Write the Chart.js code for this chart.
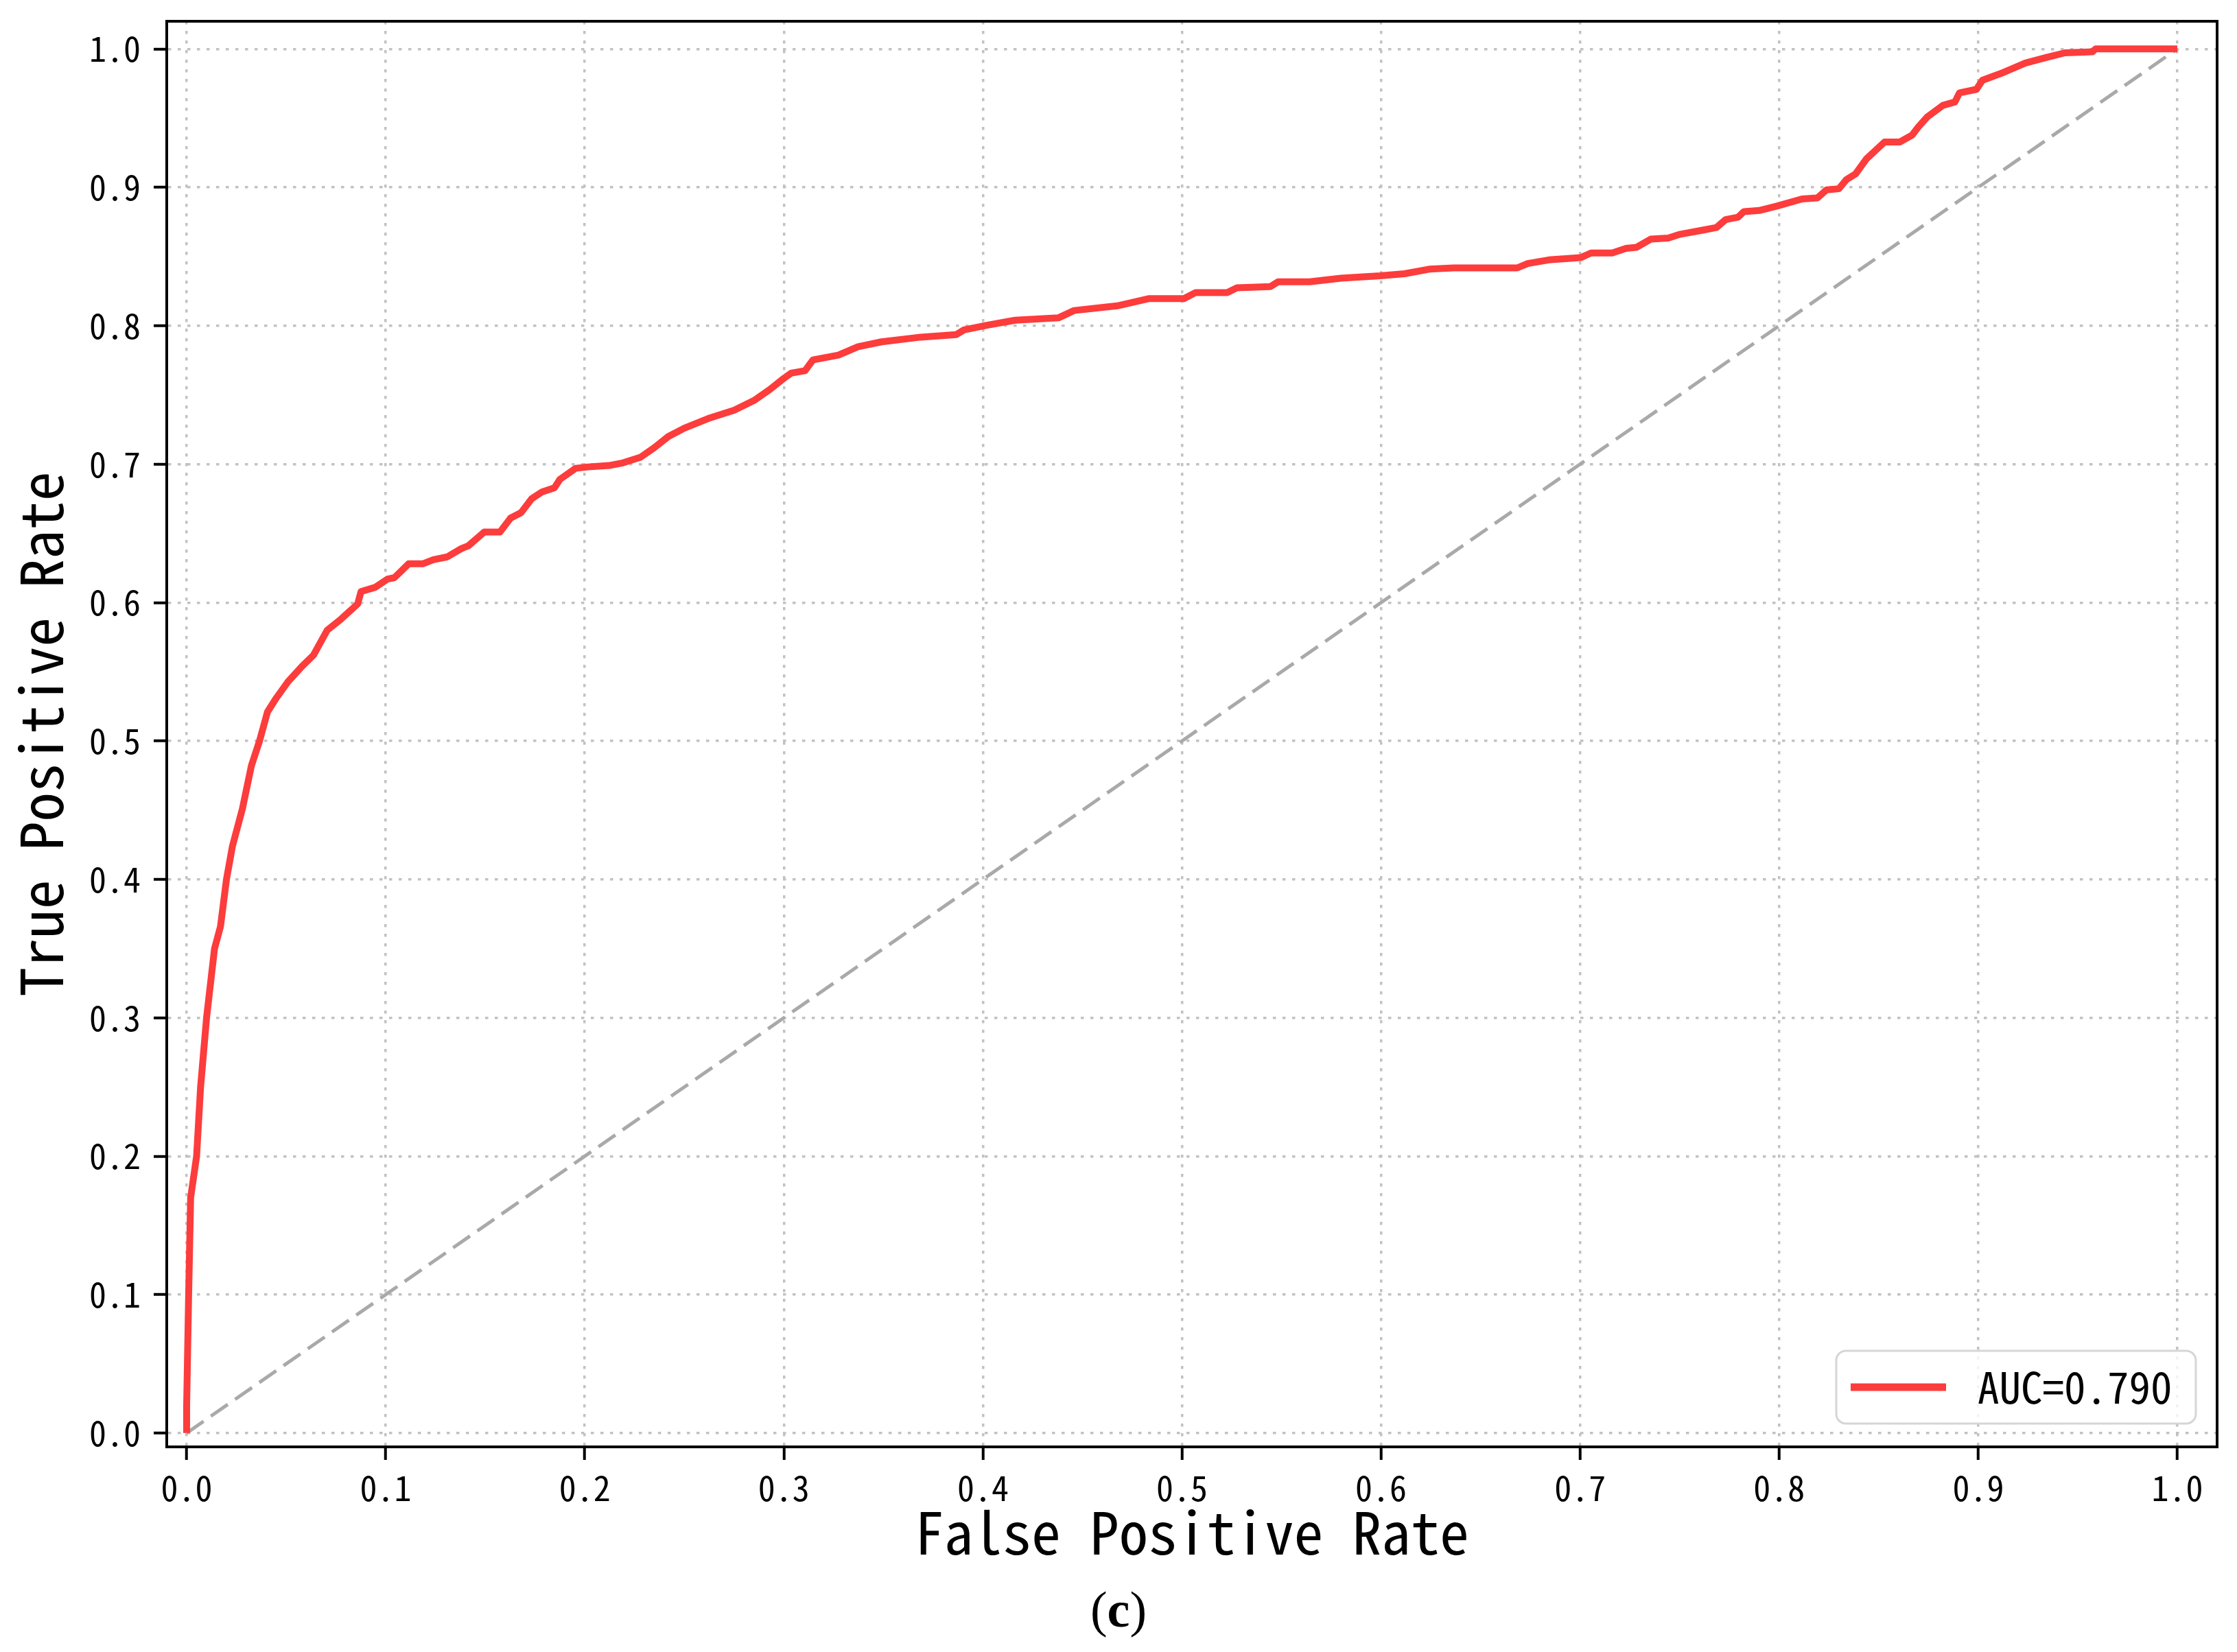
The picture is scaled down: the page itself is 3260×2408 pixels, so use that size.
<!DOCTYPE html>
<html>
<head>
<meta charset="utf-8">
<title>ROC curve (c)</title>
<script src="https://cdn.jsdelivr.net/npm/chart.js@4.4.1/dist/chart.umd.min.js"></script>
<style>
  html, body { margin: 0; padding: 0; background: #fff; }
  #wrap { position: relative; width: 3260px; height: 2408px; }
  #caption {
    position: absolute; left: 0; top: 2309px; width: 3260px;
    text-align: center; font-family: 'Liberation Serif', serif;
    font-size: 74px; line-height: 74px; color: #000;
  }
</style>
</head>
<body>
<div id="wrap">
  <canvas id="roc" width="3260" height="2408"></canvas>
  <div id="caption">(<b>c</b>)</div>
</div>
<script>
// ROC points
var fpr = [0, 0.000, 0.001, 0.002, 0.005, 0.007, 0.010, 0.014, 0.017, 0.020, 0.023, 0.028, 0.0325, 0.0366,
  0.0406, 0.045, 0.051, 0.058, 0.0637, 0.0706, 0.0775, 0.0859, 0.0876, 0.0947, 0.1009, 0.1044, 0.1115,
  0.1186, 0.1239, 0.1309, 0.138, 0.1415, 0.1495, 0.1574, 0.1627, 0.168, 0.1733, 0.1786, 0.1848, 0.1875,
  0.1954, 0.2016, 0.2122, 0.2193, 0.228, 0.235, 0.242, 0.250, 0.262, 0.275, 0.285, 0.293, 0.300, 0.3037,
  0.3106, 0.3146, 0.3274, 0.3373, 0.3491, 0.3688, 0.3866, 0.3905, 0.4024, 0.4162, 0.4379, 0.4458, 0.4675,
  0.4832, 0.501, 0.5069, 0.5227, 0.5276, 0.5444, 0.5483, 0.5641, 0.5799, 0.5996, 0.6118, 0.6242, 0.6366,
  0.6684, 0.6737, 0.6843, 0.7002, 0.7055, 0.7161, 0.7231, 0.7284, 0.7355, 0.7443, 0.7496, 0.762, 0.7685,
  0.7731, 0.7793, 0.7823, 0.79, 0.7992, 0.8115, 0.8192, 0.8238, 0.83, 0.8338, 0.8384, 0.8438, 0.853,
  0.8607, 0.8668, 0.8699, 0.8745, 0.8822, 0.8883, 0.8906, 0.8991, 0.9021, 0.9114, 0.9237, 0.9344, 0.9436,
  0.9574, 0.959, 1.0];
var tpr = [0, 0.02, 0.10, 0.17, 0.20, 0.25, 0.30, 0.35, 0.366, 0.40, 0.424, 0.451, 0.482, 0.50,
  0.521, 0.531, 0.543, 0.554, 0.562, 0.580, 0.588, 0.599, 0.608, 0.611, 0.617, 0.618, 0.628,
  0.628, 0.631, 0.633, 0.639, 0.641, 0.651, 0.651, 0.661, 0.665, 0.675, 0.680, 0.683, 0.689,
  0.697, 0.698, 0.699, 0.701, 0.705, 0.712, 0.720, 0.726, 0.733, 0.739, 0.746, 0.754, 0.762, 0.7658,
  0.7675, 0.7753, 0.7788, 0.7849, 0.7884, 0.7918, 0.7936, 0.797, 0.8005, 0.804, 0.8057, 0.811, 0.8144,
  0.8196, 0.8196, 0.824, 0.824, 0.8274, 0.8283, 0.8318, 0.8318, 0.8344, 0.8361, 0.8376, 0.8409, 0.8418,
  0.8418, 0.845, 0.8476, 0.8492, 0.8526, 0.8526, 0.8559, 0.8567, 0.8626, 0.8634, 0.8659, 0.8692, 0.871,
  0.8767, 0.8784, 0.8825, 0.8833, 0.8866, 0.8916, 0.8924, 0.8982, 0.899, 0.9056, 0.9097, 0.9205, 0.9328,
  0.9328, 0.9378, 0.9436, 0.951, 0.9592, 0.9617, 0.9683, 0.9708, 0.9774, 0.9823, 0.9898, 0.9939, 0.9972,
  0.998, 1.0, 1.0];
var chanceX = [0, 1];
var chanceY = [0, 1];
var tickValues = [0.0, 0.1, 0.2, 0.3, 0.4, 0.5, 0.6, 0.7, 0.8, 0.9, 1.0];
var aucLabel = 'AUC=0.790';
var xTitle = 'False Positive Rate';
var yTitle = 'True Positive Rate';

// half-width monospace latin like SimHei; fall back to DejaVu Sans Mono
var monoFont = "'Noto Sans Mono CJK SC', 'DejaVu Sans Mono', monospace";
var probe = document.createElement('canvas').getContext('2d');
probe.font = '100px ' + monoFont;
var advance = probe.measureText('0000000000').width / 1000;
var tickSize = Math.round(25 / advance);
var titleSize = Math.round(42.6 / advance);
var legendSize = Math.round(31.6 / advance);

var rocRed = '#fd3c3c';

// black box round the plot plus the legend in the lower right corner
var frameAndLegend = {
    id: 'frameAndLegend',
    afterDatasetsDraw: function(chart) {
        var a = chart.chartArea;
        var ctx = chart.ctx;
        var ds = chart.data.datasets[0];
        ctx.save();
        ctx.strokeStyle = '#000';
        ctx.lineWidth = 4;
        ctx.strokeRect(a.left, a.top, a.right - a.left, a.bottom - a.top);

        var w = 524, h = 106;
        var bx = a.right - 31 - w;
        var by = a.bottom - 34 - h;
        ctx.beginPath();
        ctx.roundRect(bx, by, w, h, 14);
        ctx.fillStyle = 'rgba(255,255,255,0.8)';
        ctx.fill();
        ctx.strokeStyle = '#d6d6d6';
        ctx.lineWidth = 3;
        ctx.stroke();

        var cy = by + h / 2;
        ctx.beginPath();
        ctx.moveTo(bx + 21, cy);
        ctx.lineTo(bx + 160, cy);
        ctx.strokeStyle = ds.borderColor;
        ctx.lineWidth = 11;
        ctx.stroke();

        ctx.fillStyle = '#000';
        ctx.font = legendSize + 'px ' + monoFont;
        ctx.textBaseline = 'middle';
        ctx.textAlign = 'left';
        ctx.fillText(ds.label, bx + 206, cy);
        ctx.restore();
    }
};

function axis(size, title, titlePad, tickPad) {
    return {
        type: 'linear',
        min: -0.01,
        max: 1.02,
        afterFit: function(s) {
            if (s.isHorizontal()) s.height = size; else s.width = size;
            s.paddingTop = 0; s.paddingBottom = 0;
            s.paddingLeft = 0; s.paddingRight = 0;
        },
        afterBuildTicks: function(s) {
            s.ticks = tickValues.map(function(v) { return { value: v }; });
        },
        ticks: {
            autoSkip: false,
            maxRotation: 0,
            padding: tickPad,
            color: '#000',
            font: { family: monoFont, size: tickSize },
            callback: function(v) { return Number(v).toFixed(1); }
        },
        grid: {
            color: '#c2c2c2',
            lineWidth: 3.5,
            tickColor: '#000',
            tickWidth: 4,
            tickLength: 19
        },
        border: { display: true, color: '#000', width: 4, dash: [4.5, 9.5] },
        title: {
            display: true,
            text: title,
            color: '#000',
            font: { family: monoFont, size: titleSize },
            padding: titlePad
        }
    };
}

var xTitleBottom = Math.max(0, Math.round(2408 - 2240 - 0.6 * titleSize + 6));
var yTitleTop = Math.max(0, Math.round(60 - 0.6 * titleSize));

var ctx = document.getElementById('roc').getContext('2d');
var rocChart = new Chart(ctx, {
    type: 'scatter',
    data: {
        datasets: [{
            label: aucLabel,
            data: fpr.map(function(x, i) { return { x: x, y: tpr[i] }; }),
            showLine: true,
            borderColor: rocRed,
            borderWidth: 10,
            borderJoinStyle: 'round',
            pointRadius: 0,
            tension: 0
        }, {
            label: 'chance',
            data: chanceX.map(function(x, i) { return { x: x, y: chanceY[i] }; }),
            showLine: true,
            borderColor: '#a9a9a9',
            borderWidth: 5,
            borderDash: [30, 13],
            pointRadius: 0,
            tension: 0
        }]
    },
    options: {
        responsive: false,
        devicePixelRatio: 1,
        animation: false,
        events: [],
        layout: { padding: { left: 0, top: 31, right: 29, bottom: 0 } },
        plugins: {
            legend: { display: false },
            tooltip: { enabled: false }
        },
        scales: {
            x: axis(299, xTitle, { top: 0, bottom: xTitleBottom }, 11),
            y: axis(243, yTitle, { top: yTitleTop, bottom: 0 }, 19)
        }
    },
    plugins: [frameAndLegend]
});
</script>
</body>
</html>
